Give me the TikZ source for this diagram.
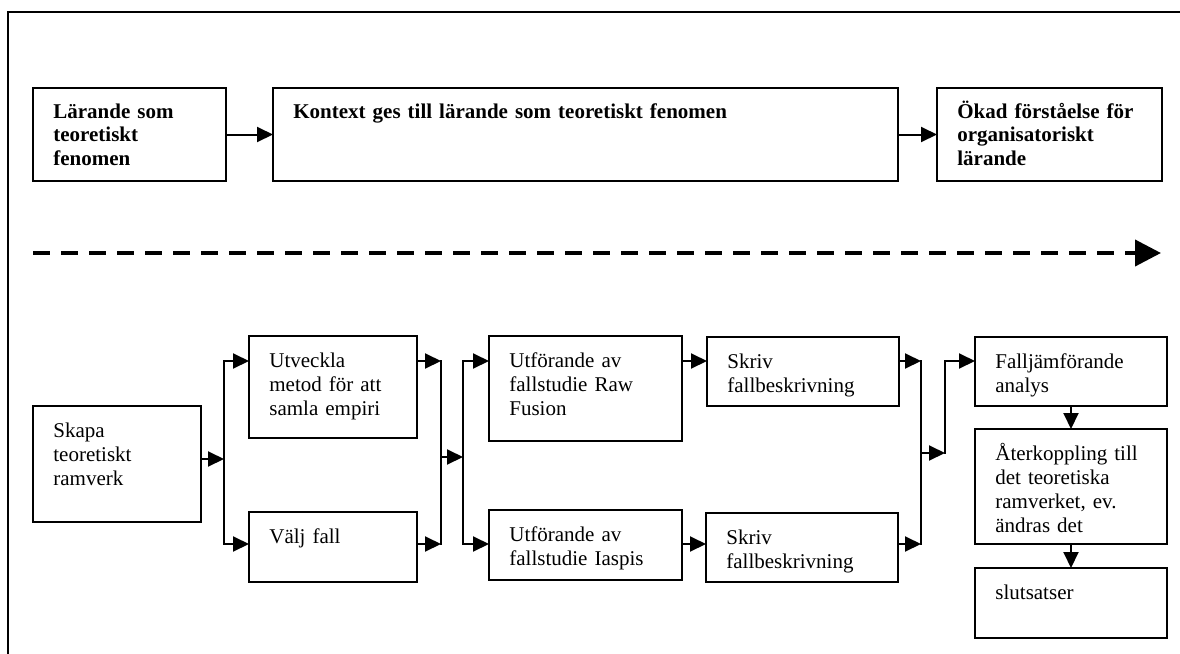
\documentclass[tikz,border=0pt]{standalone}
\usepackage{fontspec}
\setmainfont{Liberation Serif}
\usetikzlibrary{arrows.meta}
\tikzset{
    %Define standard arrow tip
    >={Triangle[length=8pt,width=7.5pt]},
    %Define style for boxes
    ruta/.style={
           rectangle,
           draw=black, line width=1pt,
           anchor=north west,
           inner sep=0pt, outer sep=0pt},
    %Define style for box texts
    rutatext/.style={
           anchor=base west,
           xshift=10pt, yshift=-15.5pt,
           inner sep=0pt,
           text width=300pt, align=left,
           font=\fontsize{10.5}{12}\selectfont},
    rubrik/.style={
           anchor=base west,
           xshift=10pt, yshift=-15pt,
           inner sep=0pt,
           text width=300pt, align=left,
           font=\fontsize{10.5}{11.8}\selectfont\bfseries},
    % Define arrow style
    pil/.style={
           ->,
           line width=1pt},
    buss/.style={
           line width=1pt,
           line cap=rect},
    streckpil/.style={
           -{Triangle[length=13pt,width=13pt]},
           line width=2pt,
           dash pattern=on 8.5pt off 5.5pt}
}
\begin{document}
\begin{tikzpicture}[x=0.5pt,y=-0.5pt]
\useasboundingbox (0,0) rectangle (1180,654);
\clip (0,0) rectangle (1180,654);
\draw[line width=1pt] (8,12) rectangle (1250,720);

 %nodes
\node[ruta, minimum width=96.5pt, minimum height=46.5pt,
  label={[rubrik]north west:{Lärande som\\teoretiskt\\fenomen}}] (laerande) at (33,88) {};
\node[ruta, minimum width=312.5pt, minimum height=46.5pt,
  label={[rubrik]north west:{Kontext ges till lärande som teoretiskt fenomen}}] (kontext) at (273,88) {};
\node[ruta, minimum width=112.5pt, minimum height=46.5pt,
  label={[rubrik]north west:{Ökad förståelse för\\organisatoriskt\\lärande}}] (oekad) at (937,88) {};

\node[ruta, minimum width=84pt, minimum height=58pt,
  label={[rutatext]north west:{Skapa\\teoretiskt\\ramverk}}] (skapa) at (33,406) {};
\node[ruta, minimum width=84pt, minimum height=51pt,
  label={[rutatext]north west:{Utveckla\\metod för att\\samla empiri}}] (utveckla) at (249,336) {};
\node[ruta, minimum width=84pt, minimum height=35pt,
  label={[rutatext]north west:{Välj fall}}] (valj) at (249,512) {};
\node[ruta, minimum width=96.5pt, minimum height=52.5pt,
  label={[rutatext]north west:{Utförande av\\fallstudie Raw\\Fusion}}] (utfraw) at (489,336) {};
\node[ruta, minimum width=96.5pt, minimum height=35pt,
  label={[rutatext]north west:{Utförande av\\fallstudie Iaspis}}] (utfiaspis) at (489,510) {};
\node[ruta, minimum width=96pt, minimum height=34.5pt,
  label={[rutatext]north west:{Skriv\\fallbeskrivning}}] (skriv1) at (707,337) {};
\node[ruta, minimum width=96pt, minimum height=34.5pt,
  label={[rutatext]north west:{Skriv\\fallbeskrivning}}] (skriv2) at (706,513) {};
\node[ruta, minimum width=96pt, minimum height=34.5pt,
  label={[rutatext]north west:{Falljämförande\\analys}}] (fall) at (975,337) {};
\node[ruta, minimum width=96pt, minimum height=57.5pt,
  label={[rutatext]north west:{Återkoppling till\\det teoretiska\\ramverket, ev.\\ändras det}}] (ater) at (975,429) {};
\node[ruta, minimum width=96pt, minimum height=35pt,
  label={[rutatext]north west:{slutsatser}}] (slut) at (975,568) {};

 %bus points
\coordinate (at) at (224,361); \coordinate (ab) at (224,544); \coordinate (am) at (224,459);
\coordinate (bt) at (441,361); \coordinate (bb) at (441,544); \coordinate (bm) at (441,457);
\coordinate (ct) at (463,361); \coordinate (cb) at (463,544);
\coordinate (dt) at (921,361); \coordinate (db) at (921,544); \coordinate (dm) at (921,453);
\coordinate (et) at (945,361); \coordinate (em) at (945,453);
\coordinate (ds) at (33,253); \coordinate (de) at (1161,253);

 %top row
\draw[pil] (laerande) -- (kontext);
\draw[pil] (kontext) -- (oekad);
\draw[streckpil] (ds) -- (de);

 %bottom row
\draw[pil] (skapa.east |- am) -- (am);
\draw[buss] (at) -- (ab);
\draw[pil] (at) -- (at -| utveckla.west);
\draw[pil] (ab) -- (ab -| valj.west);
\draw[pil] (bt -| utveckla.east) -- (bt);
\draw[pil] (bb -| valj.east) -- (bb);
\draw[buss] (bt) -- (bb);
\draw[pil] (bm) -- (bm -| ct);
\draw[buss] (ct) -- (cb);
\draw[pil] (ct) -- (ct -| utfraw.west);
\draw[pil] (cb) -- (cb -| utfiaspis.west);
\draw[pil] (ct -| utfraw.east) -- (ct -| skriv1.west);
\draw[pil] (cb -| utfiaspis.east) -- (cb -| skriv2.west);
\draw[pil] (dt -| skriv1.east) -- (dt);
\draw[pil] (db -| skriv2.east) -- (db);
\draw[buss] (dt) -- (db);
\draw[pil] (dm) -- (em);
\draw[buss] (em) -- (et);
\draw[pil] (et) -- (et -| fall.west);
\draw[pil] (fall) -- (ater);
\draw[pil] (ater) -- (slut);

\end{tikzpicture}
\end{document}
